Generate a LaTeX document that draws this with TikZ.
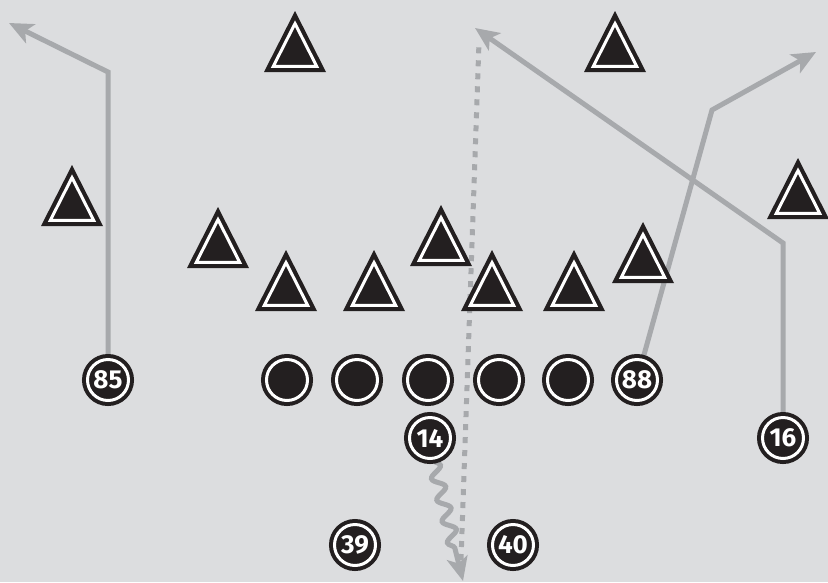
\documentclass[tikz,border=0pt]{standalone}
\usepackage{fontspec}
\newfontfamily\numfont{Fira Sans}
\usetikzlibrary{arrows.meta,decorations.pathmorphing}
\definecolor{bgc}{HTML}{DCDDDF}
\definecolor{routec}{HTML}{A7A9AC}
\definecolor{ink}{HTML}{231F20}
\pgfdeclarelayer{routes}
\pgfdeclarelayer{bg}
\pgfsetlayers{bg,routes,main}
\tikzset{
  player/.style={circle, fill=ink, draw=ink, double=white, double distance=3pt,
    line width=4pt, minimum size=41pt, inner sep=0pt, text=white,
    font=\numfont\bfseries\fontsize{26}{26}\selectfont},
  route/.style={draw=routec, line width=5pt, line join=miter,
    -{Stealth[length=24pt,width=21pt,inset=6pt]}},
  dotroute/.style={draw=routec, line width=5pt, dash pattern=on 6pt off 7pt},
  wavyroute/.style={draw=routec, line width=5pt,
    decorate, decoration={snake, amplitude=6pt, segment length=22pt, post length=26pt},
    -{Stealth[length=24pt,width=21pt,inset=6pt]}},
  defender/.pic={
    \fill[ink] (-31,30) -- (0,-31) -- (31,30) -- cycle;
    \begin{scope}[shift={(0,11)}, scale=0.70]
      \draw[white, line width=3pt, fill=ink, line join=miter] (-31,19) -- (0,-42) -- (31,19) -- cycle;
    \end{scope}
  }
}
\begin{document}
\begin{tikzpicture}[x=1pt,y=-1pt]
\begin{pgfonlayer}{bg}
\fill[bgc] (0,0) rectangle (828,582);
\end{pgfonlayer}
\useasboundingbox (0,0) rectangle (828,582);

% players
\node[player] (p85) at (108,380) {85};
\node[player] (l1) at (287,380) {};
\node[player] (l2) at (357,380) {};
\node[player] (l3) at (428,380) {};
\node[player] (l4) at (499,380) {};
\node[player] (l5) at (568,380) {};
\node[player] (p88) at (637,380) {88};
\node[player] (p14) at (430,438) {14};
\node[player] (p16) at (783,438) {16};
\node[player] (p39) at (355,545) {39};
\node[player] (p40) at (513,545) {40};

% defenders
\pic at (295,42) {defender};
\pic at (615,42) {defender};
\pic at (72,196) {defender};
\pic at (218,238) {defender};
\pic at (286,281) {defender};
\pic at (374,281) {defender};
\pic at (441,236) {defender};
\pic at (492,281) {defender};
\pic at (574,281) {defender};
\pic at (643,253) {defender};
\pic at (798,189) {defender};

% route coordinates
\coordinate (c85a) at (108,72);
\coordinate (c85b) at (9,23);
\coordinate (c88a) at (712,110);
\coordinate (c88b) at (816,52);
\coordinate (c16a) at (783,243);
\coordinate (c16b) at (475,28);
\coordinate (dBot) at (461,560);
\coordinate (dTop) at (479,42);
\coordinate (sStart) at (433,460);
\coordinate (sEnd) at (463,581);

\begin{pgfonlayer}{routes}
\draw[route] (p85.center) -- (c85a) -- (c85b);
\draw[route] (p88.center) -- (c88a) -- (c88b);
\draw[route] (p16.center) -- (c16a) -- (c16b);
\draw[dotroute] (dBot) -- (dTop);
\draw[wavyroute] (sStart) -- (sEnd);
\end{pgfonlayer}
\end{tikzpicture}
\end{document}
